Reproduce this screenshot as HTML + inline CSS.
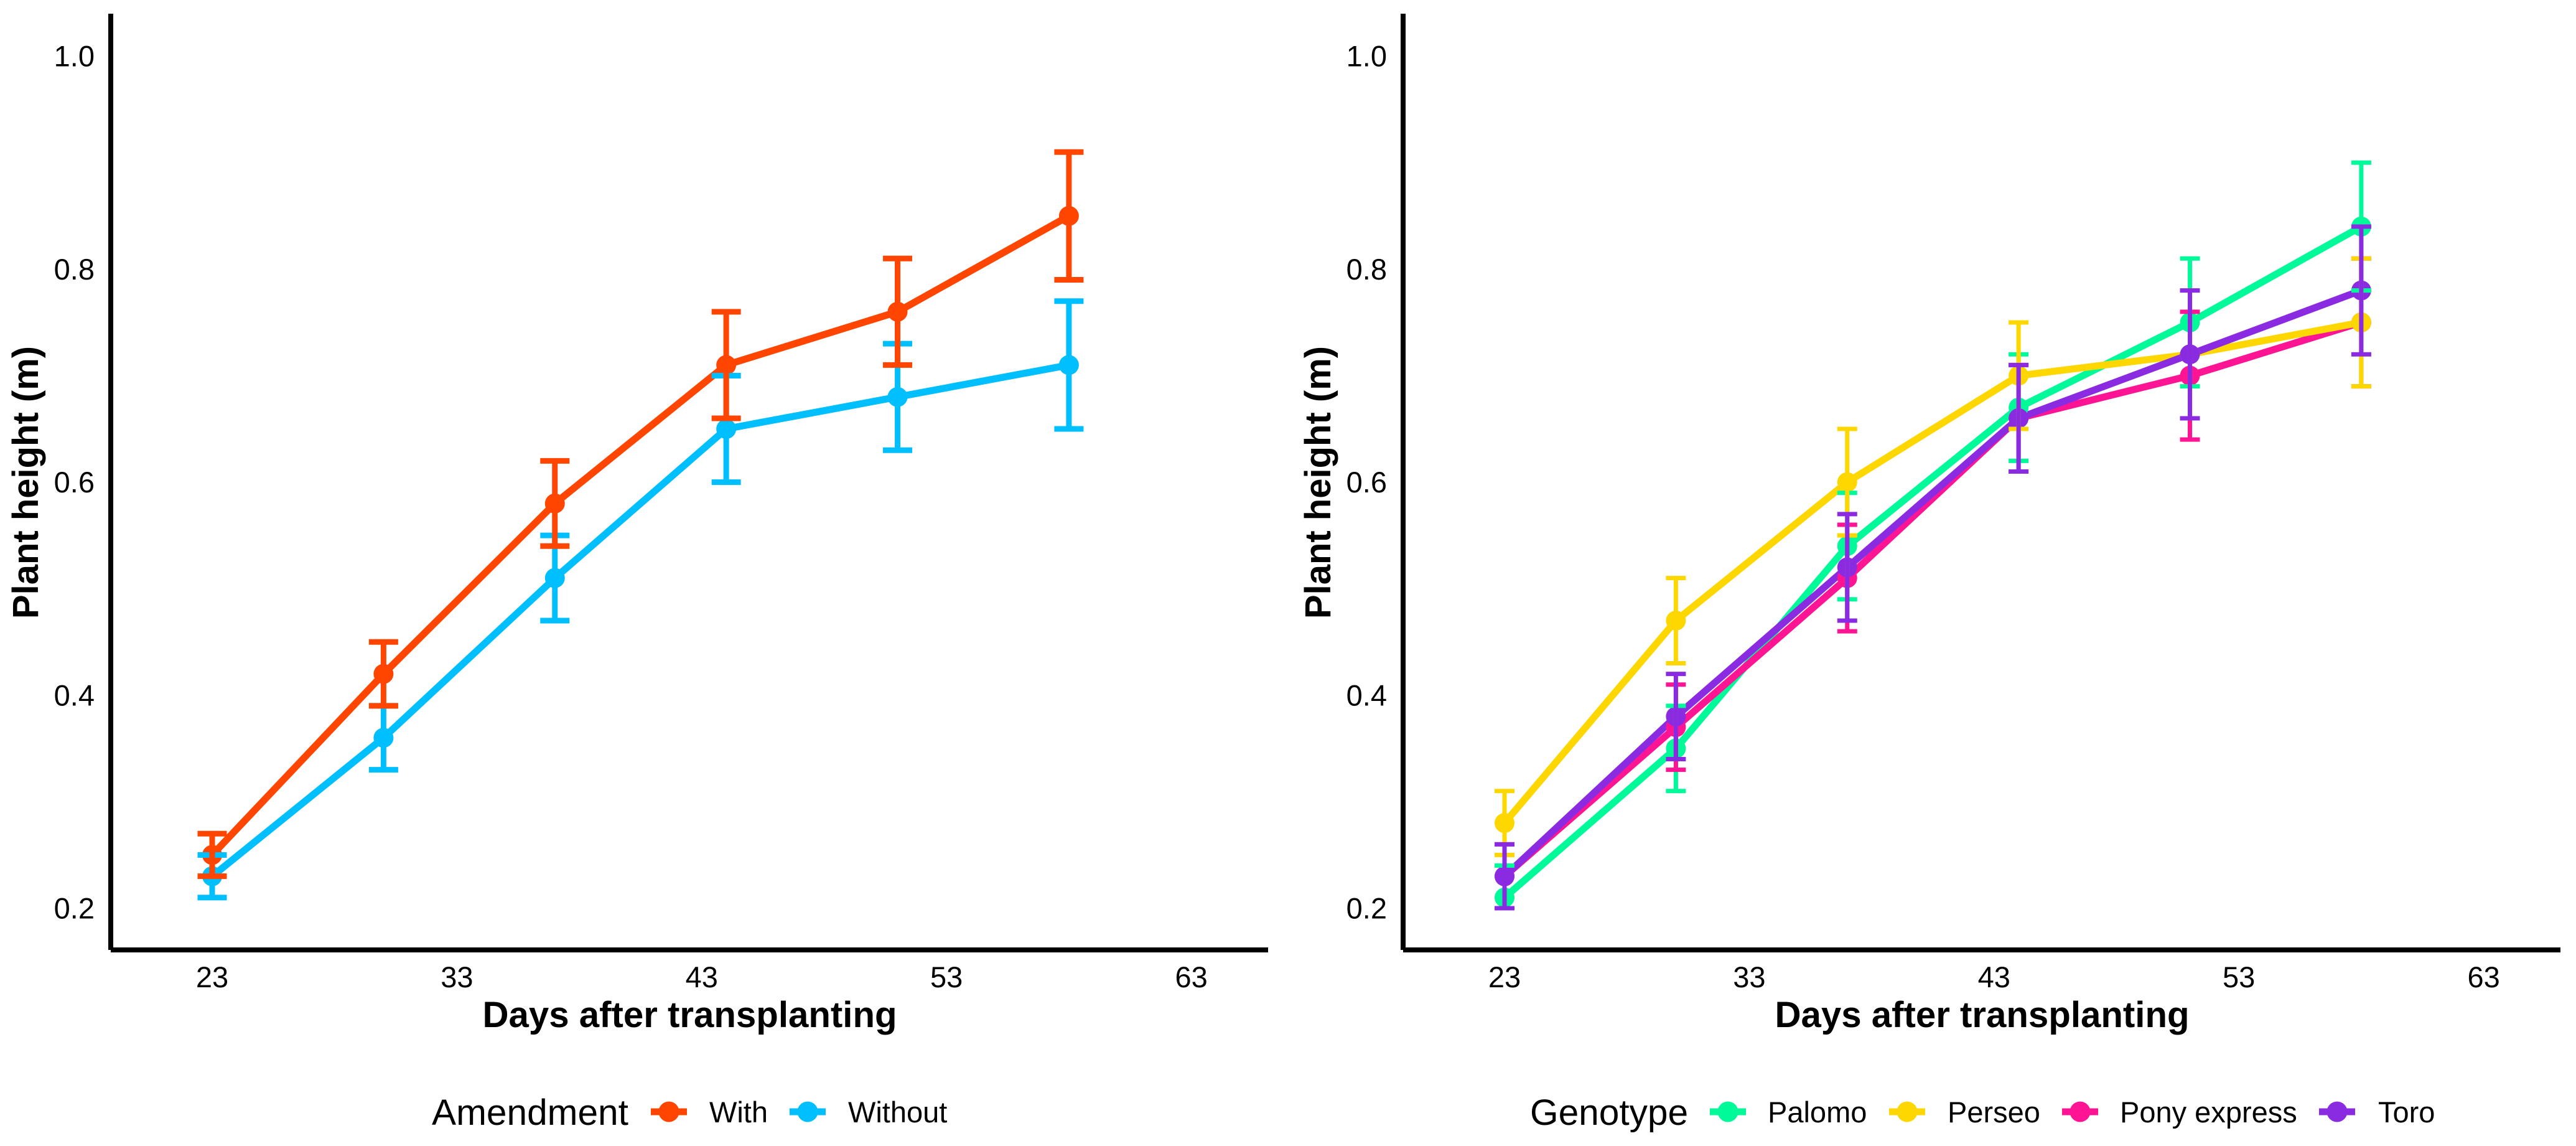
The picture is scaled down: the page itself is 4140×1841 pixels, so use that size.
<!DOCTYPE html>
<html lang="en">
<head>
<meta charset="utf-8">
<title>Plant height charts</title>
<style>
html,body{margin:0;padding:0;background:#fff;width:4140px;height:1841px;overflow:hidden}
svg{display:block}
text{font-family:"Liberation Sans",Arial,sans-serif;fill:#000}
</style>
</head>
<body>
<svg id="figure" xmlns="http://www.w3.org/2000/svg" width="4140" height="1841" viewBox="0 0 4140 1841">
<rect width="4140" height="1841" fill="#ffffff"/>
<g id="panel-left"></g>
<g id="panel-right"></g>
</svg>
<script>
const days = [23, 30, 37, 44, 51, 58];
const xTickLabels = [23, 33, 43, 53, 63];
const yTickLabels = ["0.2", "0.4", "0.6", "0.8", "1.0"];

const withMean = [0.25, 0.42, 0.58, 0.71, 0.76, 0.85];
const withUpper = [0.27, 0.45, 0.62, 0.76, 0.81, 0.91];
const withLower = [0.23, 0.39, 0.54, 0.66, 0.71, 0.79];

const withoutMean = [0.23, 0.36, 0.51, 0.65, 0.68, 0.71];
const withoutUpper = [0.25, 0.39, 0.55, 0.70, 0.73, 0.77];
const withoutLower = [0.21, 0.33, 0.47, 0.60, 0.63, 0.65];

const palomoMean = [0.21, 0.35, 0.54, 0.67, 0.75, 0.84];
const palomoUpper = [0.24, 0.39, 0.59, 0.72, 0.81, 0.90];
const palomoLower = [0.20, 0.31, 0.49, 0.62, 0.69, 0.78];

const perseoMean = [0.28, 0.47, 0.60, 0.70, 0.72, 0.75];
const perseoUpper = [0.31, 0.51, 0.65, 0.75, 0.78, 0.81];
const perseoLower = [0.25, 0.43, 0.55, 0.65, 0.66, 0.69];

const ponyMean = [0.23, 0.37, 0.51, 0.66, 0.70, 0.75];
const ponyUpper = [0.26, 0.41, 0.56, 0.71, 0.76, 0.81];
const ponyLower = [0.20, 0.33, 0.46, 0.61, 0.64, 0.69];

const toroMean = [0.23, 0.38, 0.52, 0.66, 0.72, 0.78];
const toroUpper = [0.26, 0.42, 0.57, 0.71, 0.78, 0.84];
const toroLower = [0.20, 0.34, 0.47, 0.61, 0.66, 0.72];

const SVG_NS = "http://www.w3.org/2000/svg";

function xScale(day, offset) {
  return 341 + offset + (day - 23) * 39.34;
}
function yScale(v) {
  return 1459 - (v - 0.2) * 1711;
}
function node(parent, tag, attrs) {
  const el = document.createElementNS(SVG_NS, tag);
  for (const k in attrs) el.setAttribute(k, attrs[k]);
  parent.appendChild(el);
  return el;
}
function label(parent, str, x, y, size, anchor, weight, name, rotate) {
  const el = node(parent, "text", {x: x, y: y, "font-size": size, "text-anchor": anchor, "font-weight": weight});
  if (rotate) el.setAttribute("transform", "rotate(-90 " + x + " " + y + ")");
  el.textContent = str;
  
  
  return el;
}

function drawAxes(g, offset) {
  const yAxis = node(g, "line", {x1: 178 + offset, y1: 22, x2: 178 + offset, y2: 1526, stroke: "#000", "stroke-width": 8});
  
  
  const xAxis = node(g, "line", {x1: 178 + offset, y1: 1526, x2: 2038 + offset, y2: 1526, stroke: "#000", "stroke-width": 8});
  
  
  yTickLabels.forEach(function (t) {
    label(g, t, 152 + offset, yScale(parseFloat(t)) + 16.5, 47, "end", "normal", "y-tick-label-" + t);
  });
  xTickLabels.forEach(function (t) {
    label(g, String(t), xScale(t, offset), 1586, 47, "middle", "normal", "x-tick-label-" + t);
  });
  label(g, "Days after transplanting", 1108.5 + offset, 1650, 58.2, "middle", "bold", "x-axis-title");
  label(g, "Plant height (m)", 61 + offset, 775, 58, "middle", "bold", "y-axis-title", true);
}

function drawLine(g, s, offset) {
  const pts = s.mean.map(function (v, i) {
    return xScale(days[i], offset).toFixed(1) + "," + yScale(v).toFixed(1);
  }).join(" ");
  const line = node(g, "polyline", {points: pts, fill: "none", stroke: s.color, "stroke-width": 11.3, "stroke-linejoin": "round"});
  
  
}
function drawPoints(g, s, offset) {
  s.mean.forEach(function (v, i) {
    const pt = node(g, "circle", {cx: xScale(days[i], offset), cy: yScale(v), r: 16, fill: s.color});
    
    
  });
}
function drawErrors(g, s, offset, stemW, capW, capH) {
  s.mean.forEach(function (v, i) {
    const x = xScale(days[i], offset);
    const top = yScale(s.upper[i]);
    const bot = yScale(s.lower[i]);
    const bar = node(g, "path", {
      d: "M" + (x - capW / 2) + " " + top + "H" + (x + capW / 2) +
         "M" + (x - capW / 2) + " " + bot + "H" + (x + capW / 2),
      fill: "none", stroke: s.color, "stroke-width": capH
    });
    
    
    const stem = node(g, "line", {x1: x, y1: top, x2: x, y2: bot, stroke: s.color, "stroke-width": stemW});
    
    
  });
}
function drawKey(g, color, cx, name) {
  const bar = node(g, "rect", {x: cx - 29, y: 1780.5, width: 58, height: 11, fill: color});
  
  
  const dot = node(g, "circle", {cx: cx, cy: 1786, r: 16.5, fill: color});
  
  
}

const leftSeries = [
  {key: "without", color: "#00BFFF", mean: withoutMean, upper: withoutUpper, lower: withoutLower},
  {key: "with", color: "#FF4500", mean: withMean, upper: withUpper, lower: withLower}
];
const rightSeries = [
  {key: "palomo", color: "#00FA9A", mean: palomoMean, upper: palomoUpper, lower: palomoLower},
  {key: "pony-express", color: "#FF1493", mean: ponyMean, upper: ponyUpper, lower: ponyLower},
  {key: "perseo", color: "#FFD700", mean: perseoMean, upper: perseoUpper, lower: perseoLower},
  {key: "toro", color: "#8A2BE2", mean: toroMean, upper: toroUpper, lower: toroLower}
];

function drawPanel(g, series, offset, stemW, capW, capH) {
  drawAxes(g, offset);
  series.forEach(function (s) { drawLine(g, s, offset); });
  series.forEach(function (s) { drawPoints(g, s, offset); });
  series.forEach(function (s) { drawErrors(g, s, offset, stemW, capW, capH); });
}

const leftG = document.getElementById("panel-left");
const rightG = document.getElementById("panel-right");
drawPanel(leftG, leftSeries, 0, 9, 47, 9);
drawPanel(rightG, rightSeries, 2077, 7, 32, 7);

label(leftG, "Amendment", 694, 1807, 58.6, "start", "normal", "legend-title-amendment");
drawKey(leftG, "#FF4500", 1075, "with");
label(leftG, "With", 1140, 1803, 47, "start", "normal", "legend-label-with");
drawKey(leftG, "#00BFFF", 1298, "without");
label(leftG, "Without", 1363, 1803, 47, "start", "normal", "legend-label-without");

label(rightG, "Genotype", 2459, 1807, 58.6, "start", "normal", "legend-title-genotype");
drawKey(rightG, "#00FA9A", 2777, "palomo");
label(rightG, "Palomo", 2841, 1803, 47, "start", "normal", "legend-label-palomo");
drawKey(rightG, "#FFD700", 3065, "perseo");
label(rightG, "Perseo", 3130, 1803, 47, "start", "normal", "legend-label-perseo");
drawKey(rightG, "#FF1493", 3343, "pony-express");
label(rightG, "Pony express", 3407, 1803, 47, "start", "normal", "legend-label-pony-express");
drawKey(rightG, "#8A2BE2", 3756, "toro");
label(rightG, "Toro", 3822, 1803, 47, "start", "normal", "legend-label-toro");
</script>
</body>
</html>
